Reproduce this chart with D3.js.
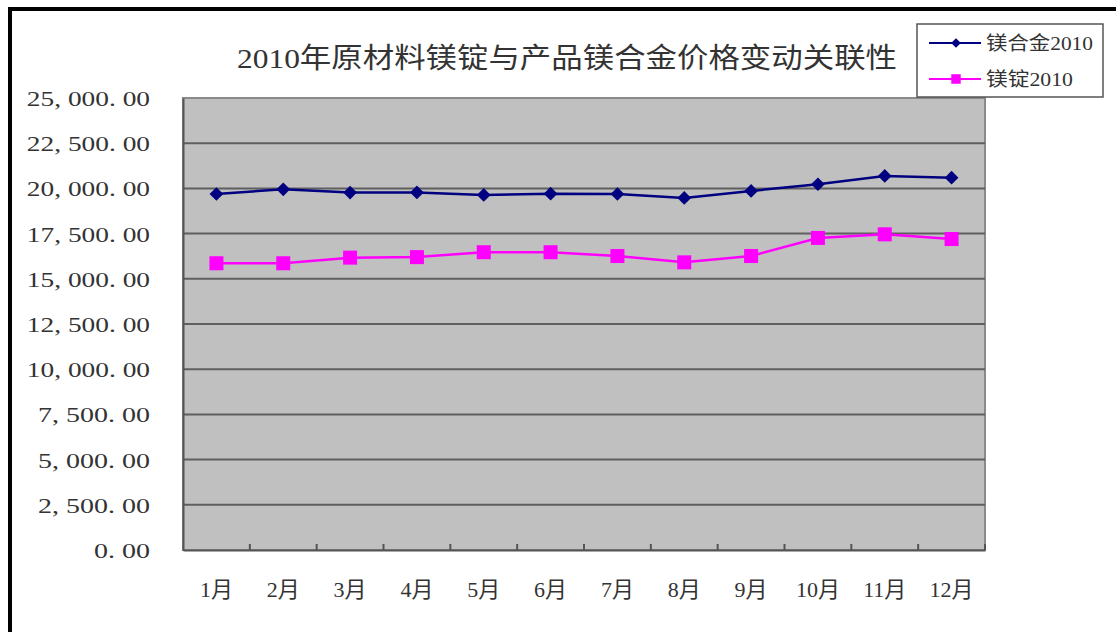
<!DOCTYPE html>
<html>
<head>
<meta charset="utf-8">
<script src="https://cdn.jsdelivr.net/npm/d3@7"></script>
<style>
	body { margin: 0; background: #fff; }
	svg { display: block; }
	text { font-family: "Liberation Serif", "DejaVu Serif", "Noto Sans CJK SC", serif; fill: #333; }
</style>
</head>
<body>
<svg id="chart" width="1116" height="632"></svg>
<script>
// chart data
const months = ["1月", "2月", "3月", "4月", "5月", "6月", "7月", "8月", "9月", "10月", "11月", "12月"];
const alloy_2010 = [19690, 19950, 19770, 19780, 19640, 19710, 19690, 19470, 19860, 20230, 20690, 20590];
const ingot_2010 = [15860, 15860, 16170, 16200, 16470, 16470, 16260, 15910, 16260, 17260, 17460, 17200];
const y_ticks = [0, 2500, 5000, 7500, 10000, 12500, 15000, 17500, 20000, 22500, 25000];
const title_text = "2010年原材料镁锭与产品镁合金价格变动关联性";
const series_names = ["镁合金2010", "镁锭2010"];

const svg = d3.select("#chart");

// plot area
const plot = { left: 183, top: 98, right: 985, bottom: 550 };

const x = d3.scaleBand()
	.domain(months)
	.range([plot.left, plot.right]);

const y = d3.scaleLinear()
	.domain([0, 25000])
	.range([plot.bottom, plot.top]);

// outer frame (only left and top edges are visible)
svg.append("path")
	.attr("d", "M10,632 L10,9 L1116,9")
	.attr("fill", "none")
	.attr("stroke", "#000")
	.attr("stroke-width", 4);

// grey background
svg.append("rect")
	.attr("x", plot.left)
	.attr("y", plot.top)
	.attr("width", plot.right - plot.left)
	.attr("height", plot.bottom - plot.top)
	.attr("fill", "#c0c0c0")
	.attr("stroke", "#8a8a8a")
	.attr("stroke-width", 2);

// horizontal gridlines
svg.append("g")
	.selectAll("line")
	.data(y_ticks.filter(d => d > 0 && d < 25000))
	.join("line")
	.attr("x1", plot.left)
	.attr("x2", plot.right)
	.attr("y1", d => y(d))
	.attr("y2", d => y(d))
	.attr("stroke", "#5f5f5f")
	.attr("stroke-width", 2);

// y axis, labels are wide (fixed pitch look of the original font)
const fmt = d3.format(",.2f");
const y_axis = svg.append("g")
	.attr("transform", `translate(${plot.left},0)`)
	.call(d3.axisLeft(y).tickValues(y_ticks).tickSize(0).tickPadding(33)
		.tickFormat(d => fmt(d).replace(/,/g, ", ").replace(".", ". ")));
y_axis.select(".domain").attr("stroke", "#555").attr("stroke-width", 2);
y_axis.selectAll("text")
	.attr("font-size", 21)
	.attr("dy", "0.36em")
	.attr("fill", "#444")
	.attr("textLength", function() { return this.textContent.length * 11.2; })
	.attr("lengthAdjust", "spacingAndGlyphs");

// x axis with ticks between categories, pointing inward
const x_axis = svg.append("g")
	.attr("transform", `translate(0,${plot.bottom})`)
	.call(d3.axisBottom(x).tickSize(0).tickPadding(31));
x_axis.select(".domain").attr("stroke", "#555").attr("stroke-width", 2);
x_axis.selectAll("text")
	.attr("font-size", 22)
	.attr("fill", "#333");
x_axis.selectAll(".between")
	.data(months)
	.join("line")
	.attr("class", "between")
	.attr("x1", d => x(d) + x.bandwidth())
	.attr("x2", d => x(d) + x.bandwidth())
	.attr("y1", 0)
	.attr("y2", -6)
	.attr("stroke", "#555")
	.attr("stroke-width", 2);

// title, stretched horizontally like the original
svg.append("text")
	.attr("x", 237)
	.attr("y", 68)
	.attr("font-size", 28)
	.attr("textLength", 660)
	.attr("lengthAdjust", "spacingAndGlyphs")
	.attr("fill", "#222")
	.text(title_text);

// lines and markers
const cx = d => x(d) + x.bandwidth() / 2;
const line = d3.line()
	.x((d, i) => cx(months[i]))
	.y(d => y(d));

svg.append("path")
	.datum(ingot_2010)
	.attr("d", line)
	.attr("fill", "none")
	.attr("stroke", "#ff00ff")
	.attr("stroke-width", 2.5);

svg.append("g")
	.selectAll("rect")
	.data(ingot_2010)
	.join("rect")
	.attr("x", (d, i) => cx(months[i]) - 7)
	.attr("y", d => y(d) - 7)
	.attr("width", 14)
	.attr("height", 14)
	.attr("fill", "#ff00ff");

svg.append("path")
	.datum(alloy_2010)
	.attr("d", line)
	.attr("fill", "none")
	.attr("stroke", "#000080")
	.attr("stroke-width", 2.5);

const diamond = d3.symbol().type(d3.symbolDiamond2).size(120);
svg.append("g")
	.selectAll("path")
	.data(alloy_2010)
	.join("path")
	.attr("transform", (d, i) => `translate(${cx(months[i])},${y(d)})`)
	.attr("d", diamond)
	.attr("fill", "#000080");

// legend
const legend = svg.append("g");
legend.append("rect")
	.attr("x", 917)
	.attr("y", 24)
	.attr("width", 186)
	.attr("height", 73)
	.attr("fill", "#fff")
	.attr("stroke", "#555")
	.attr("stroke-width", 1.5);

const legend_colors = ["#000080", "#ff00ff"];
const legend_widths = [107, 87];
const legend_rows = legend.selectAll(".row")
	.data(series_names)
	.join("g")
	.attr("class", "row")
	.attr("transform", (d, i) => `translate(0,${43 + i * 36})`);

legend_rows.append("line")
	.attr("x1", 929)
	.attr("x2", 981)
	.attr("stroke", (d, i) => legend_colors[i])
	.attr("stroke-width", 2);

legend_rows.append("path")
	.attr("transform", "translate(956,0)")
	.attr("d", (d, i) => i === 0
		? d3.symbol().type(d3.symbolDiamond2).size(60)()
		: d3.symbol().type(d3.symbolSquare).size(90)())
	.attr("fill", (d, i) => legend_colors[i]);

legend_rows.append("text")
	.attr("x", 986)
	.attr("dy", "0.36em")
	.attr("font-size", 19)
	.attr("fill", "#333")
	.attr("textLength", (d, i) => legend_widths[i])
	.attr("lengthAdjust", "spacingAndGlyphs")
	.text(d => d);
</script>
</body>
</html>
